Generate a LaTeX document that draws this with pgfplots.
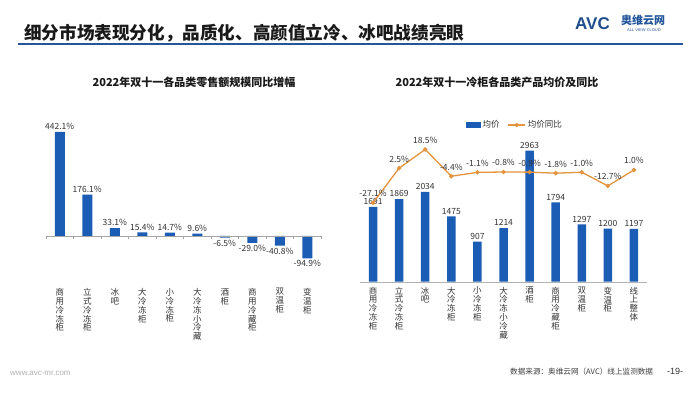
\documentclass[border=0pt]{standalone}
\usepackage{fontspec}
\setmainfont{Noto Sans CJK SC}
\newfontfamily\lsans{Liberation Sans}
\usepackage{pgfplots}
\pgfplotsset{compat=1.18}
\definecolor{barblue}{HTML}{1B5CB4}
\definecolor{lineorange}{HTML}{E4933E}
\definecolor{hdrblue}{HTML}{24569C}
\definecolor{txt}{HTML}{333333}
\begin{document}
\begin{tikzpicture}[x=1pt,y=1pt]
\useasboundingbox (0,0) rectangle (700,394);
\fill[white] (0,0) rectangle (700,394);
% header
\node[anchor=west, inner sep=0pt, font=\fontsize{17.6}{20}\selectfont\bfseries, text=black!90] at (24,361) {细分市场表现分化，品质化、高颜值立冷、冰吧战绩亮眼};
\draw[hdrblue, line width=1.6pt] (18,350) -- (683,350);
% logo
\node[anchor=west, inner sep=0pt, font=\lsans\fontsize{17}{17}\selectfont\bfseries, text=hdrblue!90!black] at (575,370) {AVC};
\node[anchor=west, inner sep=0pt, font=\fontsize{11}{11}\selectfont\bfseries, text=hdrblue] at (621,374) {奥维云网};
\node[anchor=west, inner sep=0pt, font=\lsans\fontsize{4}{4}\selectfont, text=hdrblue] at (627,364) {ALL VIEW CLOUD};
% chart titles
\node[font=\fontsize{11}{12}\selectfont\bfseries, text=black!90] at (194,312) {2022年双十一各品类零售额规模同比增幅};
\node[font=\fontsize{11}{12}\selectfont\bfseries, text=black!90] at (497,312) {2022年双十一冷柜各品类产品均价及同比};
% footer
\node[anchor=west, inner sep=0pt, font=\lsans\fontsize{8}{8}\selectfont, text=black!30] at (10,21) {www.avc-mr.com};
\node[anchor=west, inner sep=0pt, font=\fontsize{7.6}{8}\selectfont, text=black!75] at (510,22) {数据来源：奥维云网（AVC）线上监测数据};
\node[anchor=west, inner sep=0pt, font=\lsans\fontsize{9}{9}\selectfont, text=black!80] at (667,23) {-19-};

% left chart
\begin{axis}[at={(46pt,110pt)}, anchor=south west, scale only axis,
  width=275pt, height=158.7pt,
  xmin=-0.5, xmax=9.5, ymin=-204, ymax=470,
  ybar, bar width=10pt,
  axis line style={draw=none}, ytick=\empty,
  xtick={0,...,9},
  xticklabels={{商\\用\\冷\\冻\\柜},{立\\式\\冷\\冻\\柜},{冰\\吧},{大\\冷\\冻\\柜},{小\\冷\\冻\\柜},{大\\冷\\冻\\小\\冷\\藏},{酒\\柜},{商\\用\\冷\\藏\\柜},{双\\温\\柜},{变\\温\\柜}},
  major tick length=0pt,
  xticklabel style={align=center, anchor=north, inner sep=0pt, yshift=-4pt, font=\fontsize{8.5}{8.9}\selectfont, text=txt},
  clip=false,
  /pgf/number format/assume math mode=true,
  nodes near coords={\pgfmathprintnumber[fixed,fixed zerofill,precision=1]{\pgfplotspointmeta}\%},
  nodes near coords style={font=\fontsize{8.5}{9}\selectfont, text=txt, inner sep=2pt},
]
\addplot[fill=barblue, draw=none] coordinates {(0,442.1) (1,176.1) (2,33.1) (3,15.4) (4,14.7) (5,9.6) (6,-6.5) (7,-29.0) (8,-40.8) (9,-94.9)};
\draw[black!35] (axis cs:-0.5,0) -- (axis cs:9.5,0);
\pgfplotsinvokeforeach{-0.5,0.5,...,9.5}{\draw[black!35] (axis cs:#1,0) -- ++(0pt,-3pt);}
\end{axis}

% right chart bars
\begin{axis}[at={(360pt,112.3pt)}, anchor=south west, scale only axis,
  width=287pt, height=166.7pt,
  xmin=-0.5, xmax=10.5, ymin=0, ymax=3771,
  ybar, bar width=8.5pt,
  axis line style={draw=none}, ytick=\empty,
  xtick={0,...,10},
  xticklabels={{商\\用\\冷\\冻\\柜},{立\\式\\冷\\冻\\柜},{冰\\吧},{大\\冷\\冻\\柜},{小\\冷\\冻\\柜},{大\\冷\\冻\\小\\冷\\藏},{酒\\柜},{商\\用\\冷\\藏\\柜},{双\\温\\柜},{变\\温\\柜},{线\\上\\整\\体}},
  major tick length=0pt,
  xticklabel style={align=center, anchor=north, inner sep=0pt, yshift=-5pt, font=\fontsize{8.5}{8.9}\selectfont, text=txt},
  clip=false,
  /pgf/number format/assume math mode=true,
  /pgf/number format/1000 sep={},
  nodes near coords,
  nodes near coords style={font=\fontsize{8.5}{9}\selectfont, text=txt, inner sep=2pt},
]
\addplot[fill=barblue, draw=none] coordinates {(0,1691) (1,1869) (2,2034) (3,1475) (4,907) (5,1214) (6,2963) (7,1794) (8,1297) (9,1200) (10,1197)};
\draw[black!30] (axis cs:-0.5,0) -- (axis cs:10.5,0);
\end{axis}

% right chart line
\begin{axis}[at={(360pt,112.3pt)}, anchor=south west, scale only axis,
  width=287pt, height=166.7pt,
  xmin=-0.5, xmax=10.5, ymin=-94.5, ymax=47.9,
  hide axis, clip=false,
  /pgf/number format/assume math mode=true,
  legend style={at={(axis description cs:0.54,0.94)}, anchor=center, draw=none, fill=none, font=\fontsize{8.5}{9}\selectfont, text=txt, /tikz/every even column/.append style={column sep=6pt}},
  legend columns=2,
]
\addlegendimage{legend image code/.code={\fill[barblue] (0pt,-2.5pt) rectangle (14pt,2.5pt);}}
\addlegendentry{均价}
\addplot[lineorange, line width=1.3pt, mark=*, mark size=1.5pt,
  nodes near coords={\pgfmathprintnumber[fixed,fixed zerofill,precision=1]{\pgfplotspointmeta}\%},
  nodes near coords style={font=\fontsize{8.5}{9}\selectfont, text=txt, anchor=south, yshift=2pt}]
  coordinates {(0,-27.1) (1,2.5) (2,18.5) (3,-4.4) (4,-1.1) (5,-0.8) (6,-0.9) (7,-1.8) (8,-1.0) (9,-12.7) (10,1.0)};
\addlegendentry{均价同比}
\end{axis}
\end{tikzpicture}
\end{document}
